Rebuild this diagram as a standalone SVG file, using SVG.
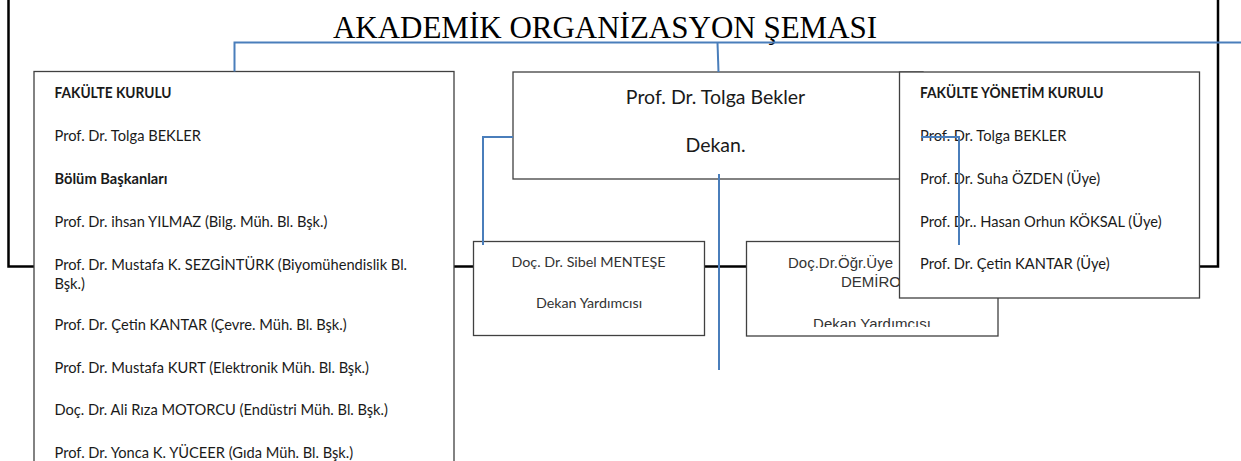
<svg xmlns="http://www.w3.org/2000/svg" width="1241" height="461" viewBox="0 0 1241 461">
<defs>
<style>
.box{fill:#fff;stroke:#404040;stroke-width:1.3}
.frame{fill:none;stroke:#000;stroke-width:2.5}
.c{fill:none;stroke:#4a7ebb;stroke-width:2}
.t{font-family:Lato,"Liberation Sans",sans-serif;font-size:14.67px;fill:#1a1a1a}
.b{font-weight:bold}
.title{font-family:"Liberation Serif",serif;font-size:31px;fill:#000}
.dk{font-family:Lato,"Liberation Sans",sans-serif;font-size:19.5px;fill:#1a1a1a}
.s{font-family:Lato,"Liberation Sans",sans-serif;font-size:14.3px;fill:#333}
.a{font-family:"Liberation Sans",Arial,sans-serif;font-size:15px;fill:#333}
</style>
<clipPath id="clipD"><rect x="746" y="241" width="252" height="86"/></clipPath>
</defs>
<rect x="0" y="0" width="1241" height="461" fill="#fff"/>
<g id="frame"><rect class="frame" x="8.5" y="-10" width="1209.5" height="276.5"/></g>
<g id="title"><text class="title" x="605" y="38" text-anchor="middle">AKADEMİK ORGANİZASYON ŞEMASI</text></g>
<g id="fakulte-kurulu">
<rect class="box" x="34" y="71.5" width="420" height="400"/>
<text class="t b" x="54.5" y="97.5" textLength="117" lengthAdjust="spacingAndGlyphs">FAKÜLTE KURULU</text>
<text class="t" x="54.5" y="140.5">Prof. Dr. Tolga BEKLER</text>
<text class="t b" x="54.5" y="183.5">Bölüm Başkanları</text>
<text class="t" x="54.5" y="226.5">Prof. Dr. ihsan YILMAZ (Bilg. Müh. Bl. Bşk.)</text>
<text class="t" x="54.5" y="269.5">Prof. Dr. Mustafa K. SEZGİNTÜRK (Biyomühendislik Bl.</text>
<text class="t" x="54.5" y="289">Bşk.)</text>
<text class="t" x="54.5" y="330">Prof. Dr. Çetin KANTAR (Çevre. Müh. Bl. Bşk.)</text>
<text class="t" x="54.5" y="372.5">Prof. Dr. Mustafa KURT (Elektronik Müh. Bl. Bşk.)</text>
<text class="t" x="54.5" y="415">Doç. Dr. Ali Rıza MOTORCU (Endüstri Müh. Bl. Bşk.)</text>
<text class="t" x="54.5" y="457.5">Prof. Dr. Yonca K. YÜCEER (Gıda Müh. Bl. Bşk.)</text>
</g>
<g id="dekan">
<rect class="box" x="513" y="72" width="410" height="107"/>
<text class="dk" x="715.5" y="104" text-anchor="middle">Prof. Dr. Tolga Bekler</text>
<text class="dk" x="715.5" y="152" text-anchor="middle">Dekan.</text>
</g>
<g id="dekan-yrd-1">
<rect class="box" x="473.5" y="241.5" width="231" height="94"/>
<text class="s" x="588.5" y="267" text-anchor="middle">Doç. Dr. Sibel MENTEŞE</text>
<text class="s" x="589" y="308" text-anchor="middle">Dekan Yardımcısı</text>
</g>
<g id="dekan-yrd-2">
<rect class="box" x="746.5" y="241.5" width="251.5" height="94.5"/>
<g clip-path="url(#clipD)">
<text class="a" x="788" y="268">Doç.Dr.Öğr.Üye</text>
<text class="a" x="841" y="287">DEMİRO</text>
<text class="a" x="872" y="329" text-anchor="middle">Dekan Yardımcısı</text>
</g>
</g>
<g id="fakulte-yonetim-kurulu">
<rect class="box" x="899.5" y="72" width="300" height="226"/>
<text class="t b" x="920" y="97.5" textLength="183.5" lengthAdjust="spacingAndGlyphs">FAKÜLTE YÖNETİM KURULU</text>
<text class="t" x="920" y="141">Prof. Dr. Tolga BEKLER</text>
<text class="t" x="920" y="183.5">Prof. Dr. Suha ÖZDEN (Üye)</text>
<text class="t" x="920" y="226.5">Prof. Dr.. Hasan Orhun KÖKSAL (Üye)</text>
<text class="t" x="920" y="269">Prof. Dr. Çetin KANTAR (Üye)</text>
</g>
<g id="connectors">
<path class="c" d="M234.5 71.5 V42.5 H1241"/>
<path class="c" d="M717.5 42.5 L718.5 72"/>
<path class="c" d="M513 137 H483 V245"/>
<path class="c" d="M719 174 V370"/>
<path class="c" d="M921 137 H959 V245"/>
</g>
</svg>
